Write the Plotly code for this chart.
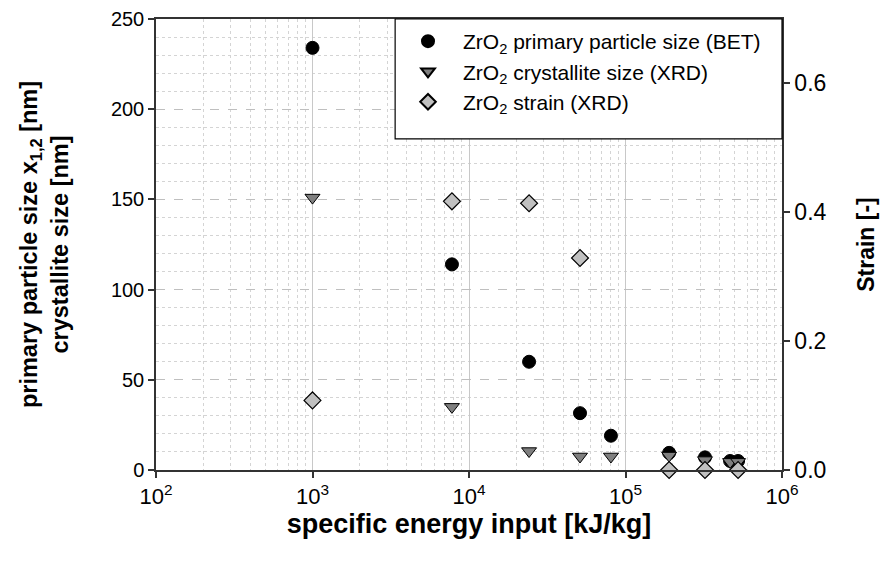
import plotly.graph_objects as go

# Data
energy_bet = [1000, 7780, 24200, 51200, 80700, 190000, 322000, 466000, 524000]
size_bet = [234, 114, 60, 31.5, 19, 9.5, 7, 5, 5]

energy_xrd = [1000, 7780, 24200, 51200, 80700, 190000, 322000, 466000, 524000]
size_xrd = [151, 35, 10.5, 7.5, 7.5, 8, 5.5, 4.5, 4.5]

energy_strain = [1000, 7780, 24200, 51200, 190000, 322000, 524000]
strain = [0.108, 0.417, 0.414, 0.329, 0.0, 0.0, 0.0]

x_tickvals = [1e2, 1e3, 1e4, 1e5, 1e6]
x_ticktext = ["10<sup>2</sup>", "10<sup>3</sup>", "10<sup>4</sup>", "10<sup>5</sup>", "10<sup>6</sup>"]

FONT = "Arial, Liberation Sans, sans-serif"
MINOR = "#d4d4d4"

fig = go.Figure()
fig.add_trace(go.Scatter(
    x=energy_bet, y=size_bet, mode="markers", cliponaxis=False,
    name="ZrO<sub>2</sub> primary particle size (BET)",
    marker=dict(symbol="circle", size=13, color="black", line=dict(color="black", width=1)),
))
fig.add_trace(go.Scatter(
    x=energy_xrd, y=size_xrd, mode="markers", cliponaxis=False,
    name="ZrO<sub>2</sub> crystallite size (XRD)",
    marker=dict(symbol="triangle-down", size=13, color="#7f7f7f", line=dict(color="black", width=1)),
))
fig.add_trace(go.Scatter(
    x=energy_strain, y=strain, mode="markers", yaxis="y2", cliponaxis=False,
    name="ZrO<sub>2</sub> strain (XRD)",
    marker=dict(symbol="diamond", size=13, color="#c0c0c0", line=dict(color="black", width=1.2)),
))

# legend frame (white box with black border)
fig.add_shape(type="rect", xref="paper", yref="paper",
              x0=0.382, x1=1.0, y0=0.734, y1=1.0,
              fillcolor="white", line=dict(color="black", width=1.2), layer="above")

fig.update_layout(
    width=882, height=562,
    margin=dict(l=156, r=100, t=19, b=92, autoexpand=False),
    paper_bgcolor="white", plot_bgcolor="white",
    font=dict(family=FONT, size=20, color="black"),
    showlegend=True,
    legend=dict(
        x=0.3786, y=0.9956, xanchor="left", yanchor="top",
        bgcolor="rgba(0,0,0,0)", borderwidth=0,
        font=dict(size=21), itemsizing="constant", itemwidth=60,
        tracegroupgap=0,
    ),
    xaxis=dict(
        type="log", range=[2, 6], automargin=False,
        tickvals=x_tickvals, ticktext=x_ticktext,
        ticks="outside", ticklen=6, tickcolor="#333", tickwidth=1.5,
        showline=True, linecolor="#333", linewidth=1.5, mirror=True,
        showgrid=True, gridcolor="#c8c8c8", gridwidth=1,
        minor=dict(dtick="D1", showgrid=True, gridcolor=MINOR, griddash="dot", gridwidth=1),
        zeroline=False,
        title=dict(text="<b>specific energy input [kJ/kg]</b>", font=dict(size=27, family=FONT), standoff=4),
        tickfont=dict(size=22),
    ),
    yaxis=dict(
        range=[0, 250], dtick=50, automargin=False,
        ticks="outside", ticklen=6, tickcolor="#333", tickwidth=1.5,
        showline=True, linecolor="#333", linewidth=1.5,
        showgrid=True, gridcolor="#bfbfbf", griddash="dash", gridwidth=1,
        minor=dict(dtick=10, showgrid=True, gridcolor=MINOR, griddash="dot", gridwidth=1),
        zeroline=False,
        title=dict(text="<b>primary particle size x<sub>1,2</sub> [nm]</b><br><b>crystallite size [nm]</b>", font=dict(size=23.5), standoff=36),
        tickfont=dict(size=20),
    ),
    yaxis2=dict(
        overlaying="y", side="right", range=[0, 0.7], dtick=0.2, tickformat=".1f",
        automargin=False,
        ticks="outside", ticklen=6, tickcolor="#333", tickwidth=1.5,
        showline=True, linecolor="#333", linewidth=1.5,
        showgrid=False, zeroline=False,
        title=dict(text="<b>Strain [-]</b>", font=dict(size=23), standoff=32),
        tickfont=dict(size=23),
    ),
)

fig.write_html("out.html")
